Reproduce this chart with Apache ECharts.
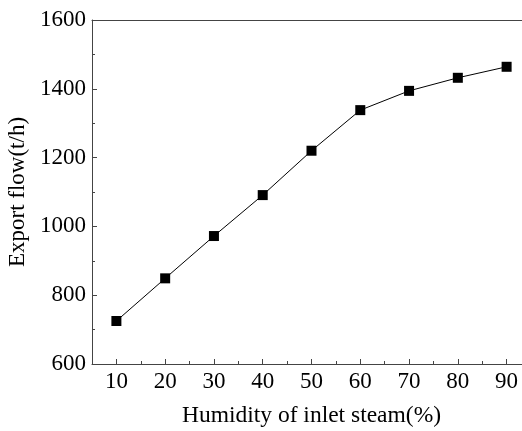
<!DOCTYPE html>
<html>
<head>
<meta charset="utf-8">
<script src="https://cdn.jsdelivr.net/npm/echarts@6/dist/echarts.min.js"></script>
<style>
  html, body { margin: 0; padding: 0; background: #fff; }
  #chart { width: 522px; height: 431px; }
</style>
</head>
<body>
<div id="chart"></div>
<script>
// humidity of inlet steam (%)
const humidity = [10, 20, 30, 40, 50, 60, 70, 80, 90];
// export flow (t/h)
const exportFlow = [725, 849, 972, 1091, 1220, 1338, 1394, 1432, 1464];
const xMajorTicks = [10, 20, 30, 40, 50, 60, 70, 80, 90];
const xMinorTicks = [15, 25, 35, 45, 55, 65, 75, 85];

const font = 'Liberation Serif';
const axisColor = '#444';

const chart = echarts.init(document.getElementById('chart'));

chart.setOption({
    animation: false,
    backgroundColor: '#fff',
    grid: {
        left: 92,
        top: 20,
        width: 439,
        height: 344,
        outerBoundsMode: 'none',
        containLabel: false
    },
    xAxis: [
        {
            type: 'value',
            min: 5,
            max: 95,
            name: 'Humidity of inlet steam(%)',
            nameLocation: 'middle',
            nameGap: 40,
            nameTextStyle: { fontFamily: font, fontSize: 23.5, color: '#000' },
            axisLine: { lineStyle: { color: axisColor, width: 1 } },
            axisTick: { inside: true, length: 5, customValues: xMajorTicks, lineStyle: { color: axisColor } },
            axisLabel: { customValues: xMajorTicks, fontFamily: font, fontSize: 23, color: '#000', margin: 6 },
            splitLine: { show: false }
        },
        {
            // minor ticks at the halves
            type: 'value',
            min: 5,
            max: 95,
            position: 'bottom',
            axisLine: { show: false },
            axisTick: { inside: true, length: 3, customValues: xMinorTicks, lineStyle: { color: axisColor } },
            axisLabel: { show: false },
            splitLine: { show: false }
        },
        {
            // top frame line
            type: 'value',
            min: 5,
            max: 95,
            position: 'top',
            axisLine: { show: true, lineStyle: { color: axisColor, width: 1 } },
            axisTick: { show: false },
            axisLabel: { show: false },
            splitLine: { show: false }
        }
    ],
    yAxis: {
        type: 'value',
        min: 600,
        max: 1600,
        interval: 200,
        name: 'Export flow(t/h)',
        nameLocation: 'middle',
        nameGap: 55,
        nameTextStyle: { fontFamily: font, fontSize: 23, color: '#000' },
        axisLine: { show: true, lineStyle: { color: axisColor, width: 1 } },
        axisTick: { show: true, inside: true, length: 5, lineStyle: { color: axisColor } },
        minorTick: { show: true, splitNumber: 2, length: 3, lineStyle: { color: axisColor } },
        axisLabel: { fontFamily: font, fontSize: 23, color: '#000', margin: 6, formatter: v => String(v) },
        splitLine: { show: false }
    },
    series: [
        {
            type: 'line',
            data: humidity.map((h, i) => [h, exportFlow[i]]),
            symbol: 'rect',
            symbolSize: 10,
            itemStyle: { color: '#000' },
            lineStyle: { color: '#000', width: 1 }
        }
    ]
});
</script>
</body>
</html>
